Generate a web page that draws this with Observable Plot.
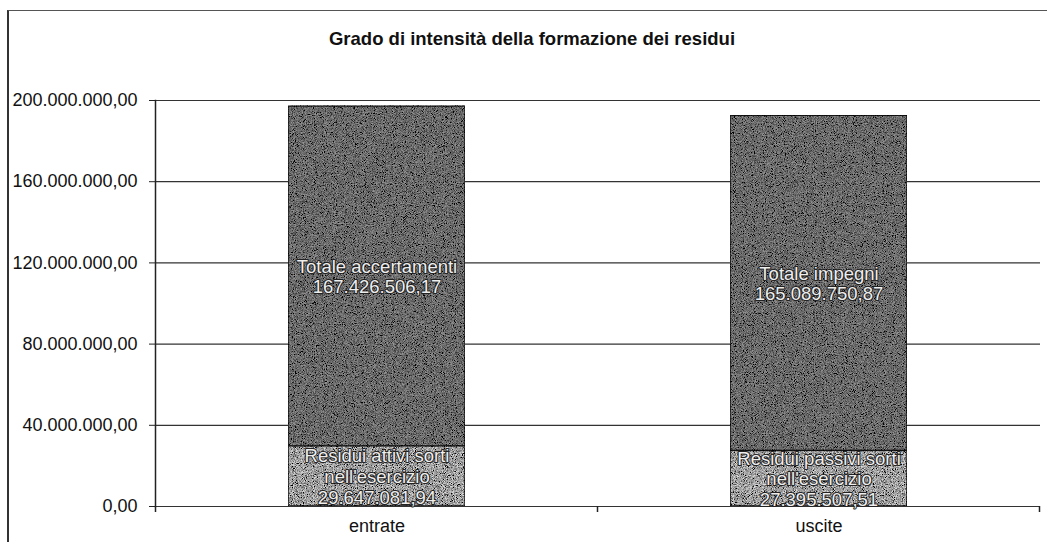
<!DOCTYPE html>
<html>
<head>
<meta charset="utf-8">
<script src="https://cdn.jsdelivr.net/npm/d3@7"></script>
<script src="https://cdn.jsdelivr.net/npm/@observablehq/plot@0.6"></script>
<style>
  html, body { margin: 0; padding: 0; background: #fff; overflow: hidden; }
  #wrap { position: relative; width: 1047px; height: 542px; overflow: hidden; font-family: "Liberation Sans", Arial, sans-serif; }
  #frame { position: absolute; left: 7px; top: 10px; width: 1200px; height: 700px; border-left: 2px solid #333; border-top: 1.5px solid #555; }
  #title { position: absolute; left: 0; top: 28px; width: 1064px; text-align: center; font-weight: bold; font-size: 18.5px; color: #111; }
  #chart { position: absolute; left: 0; top: 0; }
</style>
</head>
<body>
<div id="wrap">
  <div id="frame"></div>
  <div id="chart"></div>
  <div id="title">Grado di intensità della formazione dei residui</div>
</div>
<script>
const categories = ["entrate", "uscite"];
const residui = [29647081.94, 27395507.51];
const totali = [167426506.17, 165089750.87];
const residuiLabels = ["Residui attivi sorti\nnell'esercizio", "Residui passivi sorti\nnell'esercizio"];
const totaliLabels = ["Totale accertamenti", "Totale impegni"];
const yTicks = [0, 40000000, 80000000, 120000000, 160000000, 200000000];

const it = d3.formatLocale({decimal: ",", thousands: ".", grouping: [3], currency: ["", ""]});
const fmt = it.format(",.2f");

const data = [];
categories.forEach((c, i) => {
  data.push({cat: c, serie: "residui", value: residui[i], label: residuiLabels[i] + "\n" + fmt(residui[i])});
  data.push({cat: c, serie: "totale", value: totali[i], label: totaliLabels[i] + "\n" + fmt(totali[i])});
});

function boundaryTicks(index, scales, values, dimensions) {
  const x = scales.x, y = scales.y;
  const g = d3.create("svg:g");
  const half = (x.step() - x.bandwidth()) / 2;
  const y0 = y(0);
  const xs = [x(categories[0]) - half].concat(categories.map(c => x(c) + x.bandwidth() + half));
  xs.forEach(px => {
    g.append("line").attr("x1", px).attr("x2", px).attr("y1", y0).attr("y2", y0 + 6)
      .attr("stroke", "#222").attr("stroke-width", 1.5);
  });
  return g.node();
}

const chart = Plot.plot({
  width: 1047,
  height: 542,
  marginLeft: 155,
  marginRight: 7,
  marginTop: 100,
  marginBottom: 36,
  style: {fontFamily: "Liberation Sans, Arial, sans-serif", background: "transparent"},
  x: {domain: categories, paddingInner: 0.6, paddingOuter: 0.3, label: null},
  y: {domain: [0, 200000000], label: null},
  color: {domain: ["residui", "totale"], range: ["#a2a2a2", "#6c6c6c"]},
  marks: [
    Plot.ruleY(yTicks, {stroke: "#333", strokeWidth: 1.2}),
    Plot.barY(data, Plot.stackY({x: "cat", y: "value", z: "serie", fill: "serie", stroke: "#111", strokeWidth: 1.5})),
    Plot.text(data, Plot.stackY({x: "cat", y: "value", z: "serie", text: "label",
      fill: "#eeeeee", stroke: "#222", strokeWidth: 2, paintOrder: "stroke", fontSize: 18.5, lineHeight: 1.12})),
    Plot.axisY({ticks: yTicks, tickFormat: fmt, tickSize: 6, tickPadding: 12, fontSize: 18, stroke: "#222", color: "#111"}),
    Plot.frame({anchor: "left", stroke: "#222", strokeWidth: 1.5}),
    Plot.axisX({tickSize: 0, tickPadding: 13, fontSize: 18, color: "#111"}),
    boundaryTicks
  ]
});

// grainy scanned texture for the bars
const svg = d3.select(chart);
const defs = svg.insert("defs", ":first-child");
const f = defs.append("filter").attr("id", "grain").attr("x", 0).attr("y", 0).attr("width", "100%").attr("height", "100%");
f.append("feTurbulence").attr("type", "fractalNoise").attr("baseFrequency", 1.1).attr("numOctaves", 2).attr("seed", 7).attr("result", "n");
f.append("feColorMatrix").attr("in", "n").attr("type", "matrix")
  .attr("values", "0.33 0.33 0.33 0 0  0.33 0.33 0.33 0 0  0.33 0.33 0.33 0 0  0 0 0 0 1").attr("result", "g");
const ct = f.append("feComponentTransfer").attr("in", "g").attr("result", "c");
["feFuncR", "feFuncG", "feFuncB"].forEach(k => ct.append(k).attr("type", "linear").attr("slope", 4).attr("intercept", -1.5));
f.append("feBlend").attr("in", "c").attr("in2", "SourceGraphic").attr("mode", "overlay").attr("result", "b");
f.append("feComposite").attr("in", "b").attr("in2", "SourceGraphic").attr("operator", "in");
svg.selectAll("g[aria-label='bar'] rect").attr("filter", "url(#grain)");

document.getElementById("chart").appendChild(chart);
</script>
</body>
</html>
